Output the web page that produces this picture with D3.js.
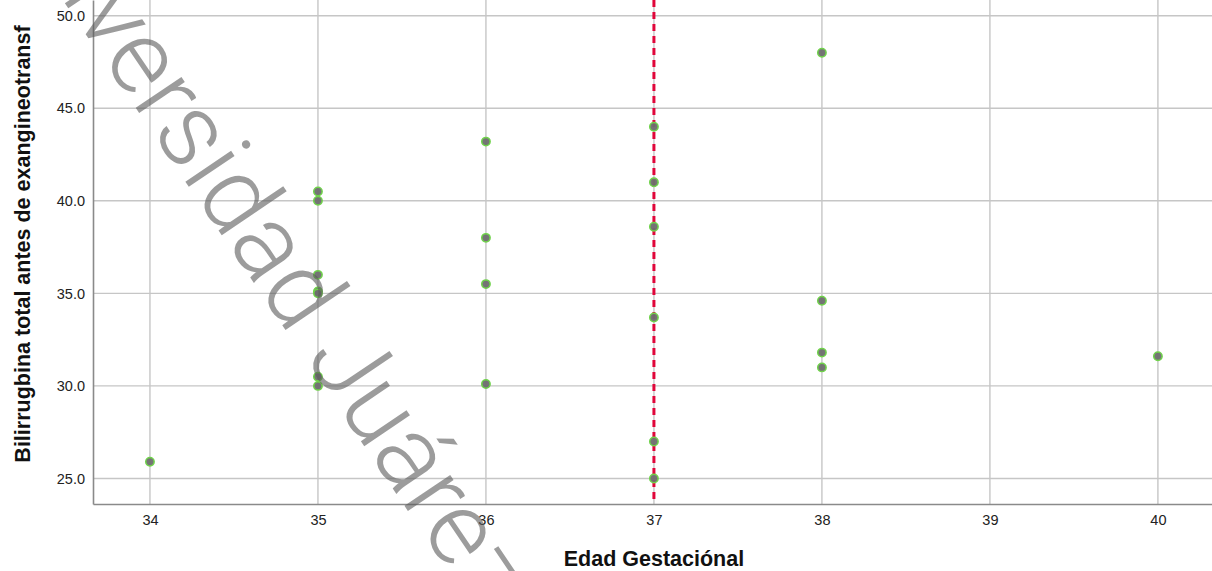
<!DOCTYPE html>
<html>
<head>
<meta charset="utf-8">
<script src="https://cdn.jsdelivr.net/npm/d3@7"></script>
<style>
  html, body { margin: 0; padding: 0; background: #fff; }
  svg { display: block; }
</style>
</head>
<body>
<svg id="chart" width="1212" height="571"></svg>
<script>
// ---- data ----
const edadGestacional = [34, 35, 35, 35, 35, 35, 35, 35, 36, 36, 36, 36, 37, 37, 37, 37, 37, 37, 38, 38, 38, 38, 40];
const bilirrubina     = [25.9, 40.5, 40.0, 36.0, 35.1, 35.0, 30.5, 30.0, 43.2, 38.0, 35.5, 30.1, 44.0, 41.0, 38.6, 33.7, 27.0, 25.0, 48.0, 34.6, 31.8, 31.0, 31.6];
const xTicks = [34, 35, 36, 37, 38, 39, 40];
const yTicks = [25, 30, 35, 40, 45, 50];
const refLineX = [37];
const xTitle = "Edad Gestaciónal";
const yTitle = "Bilirrugbina total antes de exangineotransf";
const watermark = "Universidad Juárez Autónoma de Tabasco";

// ---- layout ----
const svg = d3.select("#chart");
const plotL = 93, plotR = 1212, plotT = 0, plotB = 504;

const x = d3.scaleLinear().domain([33.661, 40.322]).range([plotL, plotR]);
const y = d3.scaleLinear().domain([23.62, 50.85]).range([plotB, plotT]);

const font = "'Liberation Sans', Arial, sans-serif";

// grid
const grid = svg.append("g");
grid.selectAll("line.v").data(xTicks).join("line")
  .attr("x1", d => x(d)).attr("x2", d => x(d))
  .attr("y1", plotT).attr("y2", plotB)
  .attr("stroke", "#c6c6c6").attr("stroke-width", 1.4);
grid.selectAll("line.h").data(yTicks).join("line")
  .attr("x1", plotL).attr("x2", plotR)
  .attr("y1", d => y(d)).attr("y2", d => y(d))
  .attr("stroke", "#c6c6c6").attr("stroke-width", 1.4);

// axes
const xAxis = d3.axisBottom(x).tickValues(xTicks).tickSize(0).tickPadding(11).tickFormat(d3.format("d"));
const yAxis = d3.axisLeft(y).tickValues(yTicks).tickSize(0).tickPadding(8).tickFormat(d3.format(".1f"));

const gx = svg.append("g").attr("transform", `translate(0,${plotB})`).call(xAxis);
const gy = svg.append("g").attr("transform", `translate(${plotL},0)`).call(yAxis);
[gx, gy].forEach(g => {
  g.select(".domain").attr("stroke", "#8a8a8a").attr("stroke-width", 1.6);
  g.selectAll("text").attr("font-family", font).attr("font-size", 14.5).attr("fill", "#222");
});

// reference line at 37
svg.selectAll("line.ref").data(refLineX).join("line")
  .attr("x1", d => x(d)).attr("x2", d => x(d))
  .attr("y1", plotT).attr("y2", plotB)
  .attr("stroke", "#e0063a").attr("stroke-width", 3)
  .attr("stroke-dasharray", "7,5");

// points
const pts = edadGestacional.map((e, i) => ({ e, b: bilirrubina[i] }));
svg.append("g").selectAll("circle").data(pts).join("circle")
  .attr("cx", d => x(d.e)).attr("cy", d => y(d.b)).attr("r", 4.2)
  .attr("fill", "#6e6e6e").attr("fill-opacity", 0.95)
  .attr("stroke", "#6fd34a").attr("stroke-width", 1.5);

// titles
svg.append("text")
  .attr("x", x(37)).attr("y", 566)
  .attr("text-anchor", "middle")
  .attr("font-family", font).attr("font-weight", "bold").attr("font-size", 21.5)
  .attr("fill", "#111").text(xTitle);

svg.append("text")
  .attr("transform", "translate(30,244) rotate(-90)")
  .attr("text-anchor", "middle")
  .attr("font-family", font).attr("font-weight", "bold").attr("font-size", 21.5)
  .attr("fill", "#111").text(yTitle);

// watermark: fit so that the 'v' sits near the top-left and the 'e' of "Juáre" near the x axis
const S0 = 100;
const wm = svg.append("text")
  .attr("font-family", "Roboto, 'Liberation Sans', sans-serif")
  .attr("font-weight", 300)
  .attr("font-size", S0)
  .attr("fill", "#5a5a5a").attr("fill-opacity", 0.6)
  .text(watermark);
const node = wm.node();
const vIdx = watermark.indexOf("v");
const eIdx = watermark.indexOf("Juáre") + 4;
const vC = node.getSubStringLength(0, vIdx) + node.getSubStringLength(vIdx, 1) / 2;
const eC = node.getSubStringLength(0, eIdx) + node.getSubStringLength(eIdx, 1) / 2;
const P1 = [87, 36], P2 = [457, 535];
const D = [P2[0] - P1[0], P2[1] - P1[1]];
const hLocal = 0.26 * S0;
const Llocal = eC - vC;
const s = Math.hypot(D[0], D[1]) / Math.hypot(Llocal, hLocal);
const a = Math.atan2(D[1], D[0]) + Math.atan2(hLocal, Llocal);
const ox = P1[0] - s * vC * Math.cos(a);
const oy = P1[1] - s * vC * Math.sin(a);
wm.attr("font-size", S0 * s)
  .attr("transform", `translate(${ox},${oy}) rotate(${a * 180 / Math.PI})`);
</script>
</body>
</html>
